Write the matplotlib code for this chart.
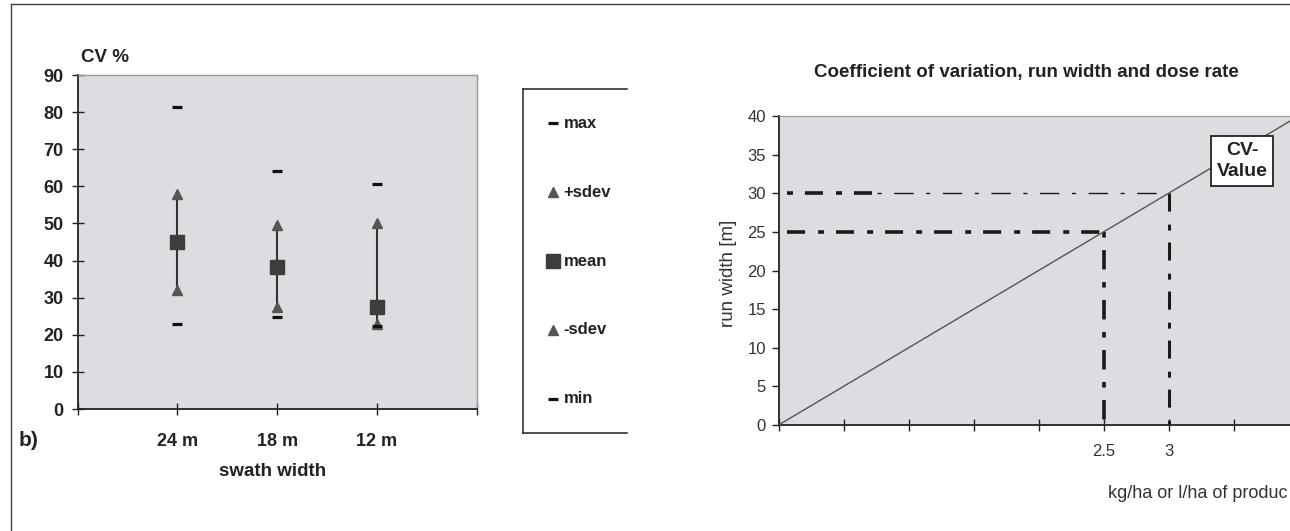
import numpy as np
import matplotlib
matplotlib.use("Agg")
import matplotlib.pyplot as plt
from matplotlib.lines import Line2D

plt.rcParams['font.family'] = ['Liberation Sans', 'DejaVu Sans']
plt.rcParams['lines.scale_dashes'] = False

# ---------------- data ----------------
categories = ['24 m', '18 m', '12 m']
cv_max = [81.5, 64.0, 60.5]
cv_plus_sdev = [58.0, 49.7, 50.0]
cv_mean = [45.0, 38.2, 27.4]
cv_minus_sdev = [32.0, 27.4, 23.0]
cv_min = [23.0, 24.8, 22.5]
legend_labels = ['max', '+sdev', 'mean', '-sdev', 'min']
cv_yticks = list(range(0, 91, 10))

dose_rate = [0, 2.5, 3.0, 4.0]
run_width = [0, 25, 30, 40]
ref_dose = [2.5, 3.0]
ref_width = [25, 30]
dose_ticks = [0, 0.5, 1.0, 1.5, 2.0, 2.5, 3.0, 3.5, 4.0]
dose_ticklabels = ['', '', '', '', '', '2.5', '3', '', '']
width_ticks = list(range(0, 41, 5))

W, H = 1290, 531
def fx(px):
    return px / W
def fy(py):
    return 1 - py / H

fig = plt.figure(figsize=(W / 100, H / 100), dpi=100)
BG = '#dcdde0'
TXT = '#222222'

# outer frame (top and left edges visible)
fig.add_artist(Line2D([fx(11), fx(11)], [0, fy(4)], color='#444444', lw=1.0))
fig.add_artist(Line2D([fx(11), 1], [fy(4), fy(4)], color='#444444', lw=1.0))

# ---------------- left panel ----------------
L, R, T, B = 77.7, 476.5, 75, 409
ax1 = fig.add_axes([fx(L), fy(B), fx(R - L), (B - T) / H])
ax1.set_facecolor(BG)
ax1.set_xlim(0, len(categories) + 1)
ax1.set_ylim(0, 90)
xpos = np.arange(1, len(categories) + 1)

ax1.vlines(xpos, cv_minus_sdev, cv_plus_sdev, color='#333333', lw=1.5, zorder=2)
st_max = dict(marker='_', ms=7.5, mew=2.3, color='#111111', ls='none')
st_tri = dict(marker='^', ms=7, color='#555555', mec='#555555', ls='none')
st_sq = dict(marker='s', ms=9.5, color='#3d3d3d', mec='#3d3d3d', ls='none')
ax1.plot(xpos, cv_max, zorder=3, **st_max)
ax1.plot(xpos, cv_plus_sdev, zorder=3, **st_tri)
ax1.plot(xpos, cv_mean, zorder=4, **st_sq)
ax1.plot(xpos, cv_minus_sdev, zorder=3, **st_tri)
ax1.plot(xpos, cv_min, zorder=3, **st_max)

ax1.set_xticks(range(len(categories) + 2))
ax1.set_xticklabels([''] + categories + [''], fontsize=13, fontweight='bold', color=TXT)
ax1.set_yticks(cv_yticks)
ax1.set_yticklabels([str(v) for v in cv_yticks], fontsize=13, fontweight='bold', color=TXT)
ax1.tick_params(axis='both', direction='inout', length=8, width=1.0, color=TXT)
ax1.tick_params(axis='y', pad=6)
ax1.tick_params(axis='x', pad=13)
for s in ['left', 'bottom']:
    ax1.spines[s].set_color(TXT)
    ax1.spines[s].set_linewidth(1.3)
for s in ['top', 'right']:
    ax1.spines[s].set_color('#9a9a9a')
    ax1.spines[s].set_linewidth(1.0)

fig.text(fx(81), fy(58), 'CV %', fontsize=13.5, fontweight='bold', ha='left', va='center', color=TXT)
fig.text(fx(19), fy(441), 'b)', fontsize=15, fontweight='bold', ha='left', va='center', color=TXT)
fig.text(fx(273), fy(471), 'swath width', fontsize=13.5, fontweight='bold', ha='center', va='center', color=TXT)

# legend box (open on the right)
LL, LR, LT, LB = 522.7, 627, 89, 433
for xs, ys in [([LL, LL], [LT, LB]), ([LL, LR], [LT, LT]), ([LL, LR], [LB, LB])]:
    fig.add_artist(Line2D([fx(v) for v in xs], [fy(v) for v in ys], color='#333333', lw=1.2))
lax = fig.add_axes([fx(LL), fy(LB), fx(LR - LL), (LB - LT) / H])
lax.set_xlim(0, 1)
lax.set_ylim(0, len(legend_labels))
lax.axis('off')
leg_styles = [st_max, st_tri, st_sq, st_tri, st_max]
for i, (lab, st) in enumerate(zip(legend_labels, leg_styles)):
    yy = len(legend_labels) - 0.5 - i
    lax.plot([0.29], [yy], **st)
    lax.text(0.39, yy, lab, fontsize=12, fontweight='bold', ha='left', va='center', color=TXT)

# ---------------- right panel ----------------
L2, R2, T2, B2 = 778.6, 1298.6, 116, 425
ax2 = fig.add_axes([fx(L2), fy(B2), fx(R2 - L2), (B2 - T2) / H])
ax2.set_facecolor(BG)
ax2.set_xlim(0, 4)
ax2.set_ylim(0, 40)
ax2.plot(dose_rate, run_width, color='#555555', lw=1.0, zorder=3)

dashdot = (0, (13, 9.4, 4.3, 8.6))
x_start = 0.065
# horizontal guide at 25
ax2.plot([x_start, ref_dose[0]], [ref_width[0], ref_width[0]], color='#1a1a1a', lw=2.6,
         linestyle=dashdot, dash_capstyle='butt', zorder=2)
# horizontal guide at 30 (thick start, thin continuation)
ax2.plot([x_start, 0.76], [ref_width[1], ref_width[1]], color='#1a1a1a', lw=2.6,
         linestyle=(0, (4.3, 8.6, 13, 9.4)), dash_capstyle='butt', zorder=2)
ax2.plot([0.76, ref_dose[1]], [ref_width[1], ref_width[1]], color='#1a1a1a', lw=1.0,
         linestyle=(0, (3, 9, 14, 9)), dash_capstyle='butt', zorder=2)
# vertical guides
ax2.plot([ref_dose[0], ref_dose[0]], [ref_width[0], 0], color='#1a1a1a', lw=2.6,
         linestyle=(0, (4, 9, 14, 9)), dash_capstyle='butt', zorder=2)
ax2.plot([ref_dose[1], ref_dose[1]], [ref_width[1], 0], color='#1a1a1a', lw=2.2,
         linestyle=dashdot, dash_capstyle='butt', zorder=2)

ax2.set_xticks(dose_ticks)
ax2.set_xticklabels(dose_ticklabels, fontsize=12, color='#333333')
ax2.set_yticks(width_ticks)
ax2.set_yticklabels([str(v) for v in width_ticks], fontsize=12, color='#333333')
ax2.tick_params(axis='x', direction='inout', length=9, width=1.0, color=TXT, pad=9)
ax2.tick_params(axis='y', direction='out', length=5, width=1.0, color=TXT, pad=4)
for s in ['left', 'bottom']:
    ax2.spines[s].set_color(TXT)
    ax2.spines[s].set_linewidth(1.3)
ax2.spines['top'].set_color('#9a9a9a')
ax2.spines['right'].set_visible(False)

ax2.text(3.565, 34.2, 'CV-\nValue', fontsize=14, fontweight='bold', ha='center', va='center',
         linespacing=1.3, color=TXT, zorder=5,
         bbox=dict(boxstyle='square,pad=0.3', fc='white', ec=TXT, lw=1.3))

fig.text(fx(1112), fy(72 - 0), '', fontsize=1)
fig.text(fx(1026), fy(72), 'Coefficient of variation, run width and dose rate', fontsize=13.5,
         fontweight='bold', ha='center', va='center', color=TXT)
fig.text(fx(728), fy(273), 'run width [m]', fontsize=13.5, rotation=90, ha='center', va='center',
         color='#333333')
# the reference shows this label cropped at the right edge
fig.text(fx(1287), fy(493), 'kg/ha or l/ha of produc', fontsize=13, ha='right', va='center',
         color='#333333')

fig.savefig('out.png', dpi=100, facecolor='white')
